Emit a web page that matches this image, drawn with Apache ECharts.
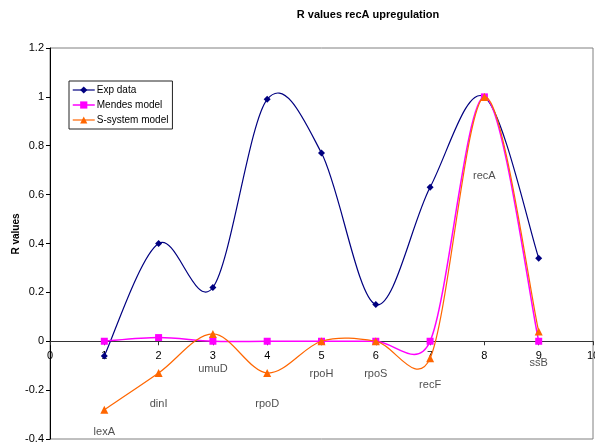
<!DOCTYPE html>
<html>
<head>
<meta charset="utf-8">
<script src="https://cdn.jsdelivr.net/npm/echarts@6/dist/echarts.min.js"></script>
<style>html,body{margin:0;padding:0;background:#fff}#c{width:595px;height:448px}</style>
</head>
<body>
<div id="c"></div>
<script>
var xValues = [1, 2, 3, 4, 5, 6, 7, 8, 9];
var expData = [-0.06, 0.40, 0.22, 0.99, 0.77, 0.15, 0.63, 1.00, 0.34];
var mendesData = [0.0, 0.015, 0.0, 0.0, 0.0, 0.0, 0.0, 1.00, 0.0];
var ssystemData = [-0.28, -0.13, 0.03, -0.13, 0.0, 0.0, -0.07, 1.00, 0.04];
var geneNames = ['lexA', 'dinI', 'umuD', 'rpoD', 'rpoH', 'rpoS', 'recF', 'recA', 'ssB'];
var geneLabelY = [-0.37, -0.255, -0.115, -0.255, -0.135, -0.135, -0.18, 0.676, -0.09];
var yTicks = { min: -0.4, max: 1.2, step: 0.2 };
var xTicks = { min: 0, max: 10, step: 1 };

function pairs(ys) { return xValues.map(function (x, i) { return [x, ys[i]]; }); }

var FONT = '"Liberation Sans", Arial, sans-serif';
var COLORS = { exp: '#000080', mendes: '#FF00FF', ssys: '#FF6600' };

// Excel-like smoothed curve: Catmull-Rom tangents (1/6), capped relative to segment length
function curveSeries(name, ys, color, width, z) {
  return {
    name: name + ' curve', type: 'custom', silent: true, z: z, clip: false,
    data: pairs(ys).slice(0, -1),
    encode: { x: 0, y: 1 },
    renderItem: function (params, api) {
      var pts = xValues.map(function (x, j) { return api.coord([x, ys[j]]); });
      var n = pts.length;
      function tan(j) {
        var a = pts[Math.max(0, j - 1)], b = pts[Math.min(n - 1, j + 1)];
        return [(b[0] - a[0]) / 6, (b[1] - a[1]) / 6];
      }
      var i = params.dataIndex;
      var p0 = pts[i], p1 = pts[i + 1];
      var seg = Math.hypot(p1[0] - p0[0], p1[1] - p0[1]);
      var cap = 0.6 * seg;
      function capT(t) {
        var l = Math.hypot(t[0], t[1]);
        if (l > cap && l > 0) { var s = cap / l; return [t[0] * s, t[1] * s]; }
        return t;
      }
      var t0 = capT(tan(i)), t1 = capT(tan(i + 1));
      return {
        type: 'bezierCurve',
        shape: { x1: p0[0], y1: p0[1], x2: p1[0], y2: p1[1],
          cpx1: p0[0] + t0[0], cpy1: p0[1] + t0[1], cpx2: p1[0] - t1[0], cpy2: p1[1] - t1[1] },
        style: { stroke: color, lineWidth: width, fill: null }
      };
    }
  };
}

function markerSeries(name, ys, color, symbol, size, z) {
  return {
    name: name, type: 'line', data: pairs(ys), smooth: false,
    symbol: symbol, symbolSize: size, showAllSymbol: true,
    lineStyle: { color: color, width: 1.2, opacity: 0 }, itemStyle: { color: color, opacity: 1 }, z: z
  };
}

var chart = echarts.init(document.getElementById('c'), null, { renderer: 'canvas' });
chart.setOption({
  animation: false,
  backgroundColor: '#fff',
  title: {
    text: 'R values recA upregulation',
    left: 363, top: 4, textAlign: 'center',
    textStyle: { fontFamily: FONT, fontSize: 11, fontWeight: 'bold', color: '#000' }
  },
  grid: { left: 50, right: 2, top: 48, bottom: 9, show: true, borderColor: '#808080', borderWidth: 1,
    containLabel: false, outerBoundsMode: 'none' },
  legend: {
    orient: 'vertical', left: 69, top: 81,
    padding: [3, 4, 3, 3], itemGap: 3, itemWidth: 22, itemHeight: 9,
    borderColor: '#222', borderWidth: 1, backgroundColor: '#fff',
    textStyle: { fontFamily: FONT, fontSize: 10, lineHeight: 11, color: '#000', padding: [1, 0, 0, -3] },
    data: [
      { name: 'Exp data', lineStyle: { color: COLORS.exp, width: 1.2, opacity: 1 } },
      { name: 'Mendes model', lineStyle: { color: COLORS.mendes, width: 1.5, opacity: 1 } },
      { name: 'S-system model', lineStyle: { color: COLORS.ssys, width: 1.2, opacity: 1 } }
    ]
  },
  graphic: [{
    type: 'text', x: 16, y: 234, rotation: Math.PI / 2,
    style: { text: 'R values', fontFamily: FONT, fontSize: 10, fontWeight: 'bold', fill: '#000', align: 'center', verticalAlign: 'middle' }
  }],
  xAxis: {
    type: 'value', min: xTicks.min, max: xTicks.max, interval: xTicks.step,
    axisLine: { onZero: false, lineStyle: { color: '#333', width: 1 } },
    axisTick: { show: true, length: 4, lineStyle: { color: '#333' } },
    axisLabel: { fontFamily: FONT, fontSize: 11, color: '#000', margin: 9 },
    splitLine: { show: false }
  },
  yAxis: {
    type: 'value', min: yTicks.min, max: yTicks.max, interval: yTicks.step,
    axisLine: { show: true, onZero: false, lineStyle: { color: '#000', width: 1 } },
    axisTick: { show: true, length: 4, lineStyle: { color: '#000' } },
    axisLabel: { fontFamily: FONT, fontSize: 11, color: '#000', margin: 6,
      formatter: function (v) { return String(parseFloat(v.toFixed(1))); } },
    splitLine: { show: false }
  },
  series: [
    curveSeries('Exp data', expData, COLORS.exp, 1.2, 2),
    markerSeries('Exp data', expData, COLORS.exp, 'diamond', 7, 3),
    curveSeries('Mendes model', mendesData, COLORS.mendes, 1.5, 4),
    markerSeries('Mendes model', mendesData, COLORS.mendes, 'rect', 7, 5),
    curveSeries('S-system model', ssystemData, COLORS.ssys, 1.2, 6),
    markerSeries('S-system model', ssystemData, COLORS.ssys, 'triangle', 8, 7),
    {
      name: 'labels', type: 'scatter', symbolSize: 0, silent: true, z: 8,
      data: xValues.map(function (x, i) { return { value: [x, geneLabelY[i]], name: geneNames[i] }; }),
      label: { show: true, position: 'inside', formatter: '{b}', fontFamily: FONT, fontSize: 11, color: '#222' }
    }
  ]
});
// place the x axis (line + labels) at y = 0, as in the reference
var yZero = chart.convertToPixel({ yAxisIndex: 0 }, 0);
var yBottom = chart.convertToPixel({ yAxisIndex: 0 }, yTicks.min);
chart.setOption({ xAxis: { offset: yZero - yBottom } });
</script>
</body>
</html>
